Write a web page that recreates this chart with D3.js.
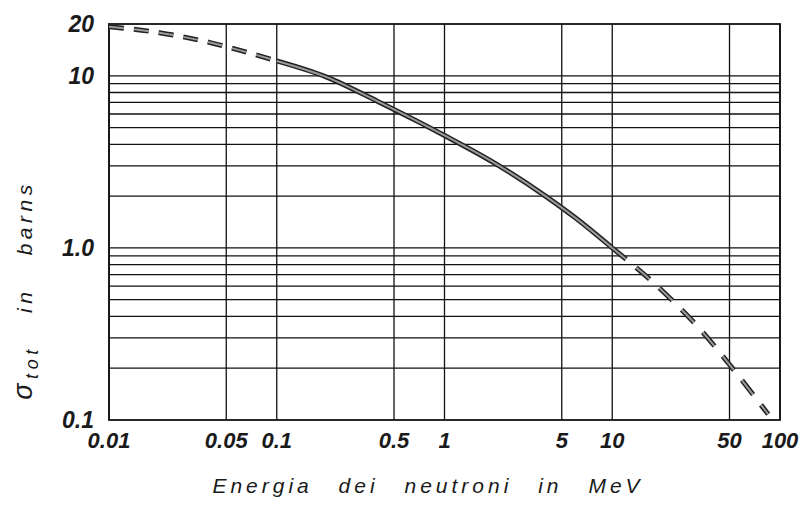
<!DOCTYPE html>
<html>
<head>
<meta charset="utf-8">
<script src="https://cdn.jsdelivr.net/npm/d3@7"></script>
<style>
  body { margin: 0; background: #fff; }
  text { font-family: "Liberation Sans", Arial, sans-serif; font-style: italic; fill: #1a1a1a; }
</style>
</head>
<body>
<div id="chart"></div>
<script>
// values
const energy = [0.01, 0.02, 0.04, 0.07, 0.1, 0.2, 0.4, 0.7, 1, 2, 4, 6, 10, 20, 35, 50, 85];
const sigma  = [19.3, 17.8, 15.6, 13.5, 12.2, 9.8, 7.1, 5.4, 4.5, 3.1, 2.0, 1.5, 1.0, 0.56, 0.32, 0.21, 0.108];

const xTicks = [0.01, 0.05, 0.1, 0.5, 1, 5, 10, 50, 100];
const xTickLabels = ["0.01", "0.05", "0.1", "0.5", "1", "5", "10", "50", "100"];
const yTicks = [20, 10, 1, 0.1];
const yTickLabels = ["20", "10", "1.0", "0.1"];
const yGrid = [0.2, 0.3, 0.4, 0.5, 0.6, 0.7, 0.8, 0.9, 1, 2, 3, 4, 5, 6, 7, 8, 9, 10];

const width = 809, height = 507;
const margin = {top: 24, right: 29, bottom: 87, left: 109};

const svg = d3.select("#chart").append("svg")
  .attr("width", width)
  .attr("height", height);

const x = d3.scaleLog().domain([0.01, 100]).range([margin.left, width - margin.right]);
const y = d3.scaleLog().domain([0.1, 20]).range([height - margin.bottom, margin.top]);

// grid
svg.append("g").selectAll("line")
  .data(yGrid)
  .enter().append("line")
  .attr("x1", x(0.01)).attr("x2", x(100))
  .attr("y1", d => y(d)).attr("y2", d => y(d))
  .attr("stroke", "#111").attr("stroke-width", 1.3);

svg.append("g").selectAll("line")
  .data(xTicks)
  .enter().append("line")
  .attr("x1", d => x(d)).attr("x2", d => x(d))
  .attr("y1", y(20)).attr("y2", y(0.1))
  .attr("stroke", "#111").attr("stroke-width", 1.3);

// frame
svg.append("rect")
  .attr("x", x(0.01)).attr("y", y(20))
  .attr("width", x(100) - x(0.01)).attr("height", y(0.1) - y(20))
  .attr("fill", "none").attr("stroke", "#111").attr("stroke-width", 1.8);

// tick labels
svg.append("g").selectAll("text")
  .data(xTicks)
  .enter().append("text")
  .attr("x", d => x(d)).attr("y", 448)
  .attr("text-anchor", "middle")
  .attr("font-size", 22)
  .attr("font-weight", "bold")
  .text((d, i) => xTickLabels[i]);

svg.append("g").selectAll("text")
  .data(yTicks)
  .enter().append("text")
  .attr("x", 94).attr("y", d => y(d))
  .attr("dy", "0.35em")
  .attr("text-anchor", "end")
  .attr("font-size", 23)
  .attr("font-weight", "bold")
  .text((d, i) => yTickLabels[i]);

// curve: dashed below 0.1 MeV and above 10 MeV, solid in between
const line = d3.line()
  .x(d => x(d[0]))
  .y(d => y(d[1]))
  .curve(d3.curveMonotoneX);

const pts = energy.map((e, i) => [e, sigma[i]]);
const segments = [
  {data: pts.filter(d => d[0] <= 0.1), dash: "15,10"},
  {data: pts.filter(d => d[0] >= 0.1 && d[0] <= 10), dash: null},
  {data: pts.filter(d => d[0] >= 10), dash: "18,13"}
];

segments.forEach(s => {
  svg.append("path")
    .attr("d", line(s.data))
    .attr("fill", "none")
    .attr("stroke", "#222")
    .attr("stroke-width", 5)
    .attr("stroke-dasharray", s.dash);
  svg.append("path")
    .attr("d", line(s.data))
    .attr("fill", "none")
    .attr("stroke", "#9a9a9a")
    .attr("stroke-width", 2)
    .attr("stroke-dasharray", s.dash);
});

// axis titles
svg.append("text")
  .attr("x", 428).attr("y", 493)
  .attr("text-anchor", "middle")
  .attr("font-size", 21)
  .attr("font-weight", 500)
  .attr("letter-spacing", 4)
  .attr("word-spacing", 16)
  .text("Energia dei neutroni in MeV");

const yTitle = svg.append("text")
  .attr("transform", "translate(32,290) rotate(-90)")
  .attr("text-anchor", "middle")
  .attr("font-size", 21)
  .attr("letter-spacing", 4.5)
  .attr("word-spacing", 22);
yTitle.append("tspan").attr("font-size", 27).text("σ");
yTitle.append("tspan").attr("font-size", 18).attr("dy", 6).text("tot");
yTitle.append("tspan").attr("dy", -6).text(" in barns");
</script>
</body>
</html>
